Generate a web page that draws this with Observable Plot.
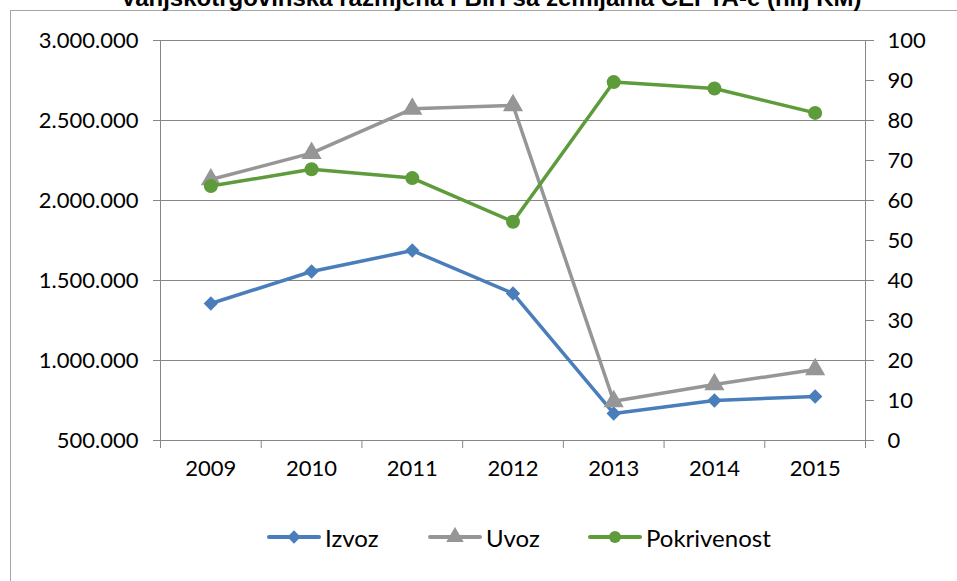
<!DOCTYPE html>
<html>
<head>
<meta charset="utf-8">
<script src="https://cdn.jsdelivr.net/npm/d3@7"></script>
<script src="https://cdn.jsdelivr.net/npm/@observablehq/plot@0.6"></script>
<style>
  html, body { margin: 0; padding: 0; background: #fff; }
  body { width: 957px; height: 581px; position: relative; overflow: hidden; font-family: "Lato", sans-serif; }
  #frame { position: absolute; left: 10px; top: 10px; width: 960px; height: 600px; border-top: 1px solid #a6a6a6; border-left: 1px solid #a6a6a6; }
  #title { position: absolute; left: 0; width: 982px; top: -14px; text-align: center; font-family: "Liberation Sans", sans-serif; font-weight: bold; font-size: 24px; line-height: 24px; color: #000; white-space: nowrap; }
  #chart { position: absolute; left: 0; top: 0; }
  #legend { position: absolute; left: 0; top: 522px; width: 957px; height: 30px; }
  .item { position: absolute; top: 0; display: flex; align-items: center; font-size: 24px; color: #000; height: 30px; }
  .item svg { margin-right: 4px; }
</style>
</head>
<body>
<div id="frame"></div>
<div id="title">Vanjskotrgovinska razmjena FBiH sa zemljama CEFTA-e (hilj KM)</div>
<div id="chart"></div>
<div id="legend"></div>
<script>
const years = [2009, 2010, 2011, 2012, 2013, 2014, 2015];
const izvoz = [1356000, 1556000, 1687000, 1419000, 669000, 750000, 775000];
const uvoz = [2131000, 2296000, 2573000, 2595000, 745000, 850000, 944000];
const pokrivenost = [63.6, 67.8, 65.6, 54.7, 89.6, 88.0, 81.9];
const leftTicks = [500000, 1000000, 1500000, 2000000, 2500000, 3000000];
const rightTicks = [0, 10, 20, 30, 40, 50, 60, 70, 80, 90, 100];
const seriesNames = ["Izvoz", "Uvoz", "Pokrivenost"];
const colors = ["#4a7ebb", "#969696", "#5e9b3a"];

const yMin = leftTicks[0], yMax = leftTicks[leftTicks.length - 1];
const rMin = rightTicks[0], rMax = rightTicks[rightTicks.length - 1];
const toLeft = v => yMin + (v - rMin) / (rMax - rMin) * (yMax - yMin);
const fromLeft = d => Math.round(rMin + (d - yMin) / (yMax - yMin) * (rMax - rMin));

const data = years.map((y, i) => ({year: y, izvoz: izvoz[i], uvoz: uvoz[i], pok: toLeft(pokrivenost[i])}));
const edges = [years[0] - 0.5, ...years.map(y => y + 0.5)];

const loc = d3.formatLocale({decimal: ",", thousands: ".", grouping: [3], currency: ["", ""]});
const fmt = loc.format(",.0f");
const axisColor = "#868686";

const chart = Plot.plot({
  width: 957,
  height: 490,
  marginLeft: 160,
  marginRight: 92,
  marginTop: 40,
  marginBottom: 50,
  style: {fontFamily: "Lato, sans-serif", fontSize: "22px", color: "#000", background: "transparent"},
  x: {domain: [edges[0], edges[edges.length - 1]]},
  y: {domain: [yMin, yMax]},
  marks: [
    Plot.gridY(leftTicks, {stroke: axisColor, strokeOpacity: 1, strokeWidth: 1}),
    Plot.axisY(leftTicks, {anchor: "left", tickFormat: fmt, tickSize: 7, tickPadding: 15, stroke: axisColor, strokeOpacity: 1, label: null, fill: "#000"}),
    Plot.axisY(rightTicks.map(toLeft), {anchor: "right", tickFormat: fromLeft, tickSize: 8, tickPadding: 14, stroke: axisColor, strokeOpacity: 1, label: null, fill: "#000"}),
    Plot.axisX(edges, {anchor: "bottom", tickFormat: () => "", tickSize: 8, stroke: axisColor, strokeOpacity: 1, label: null}),
    Plot.axisX(years, {anchor: "bottom", tickFormat: d => String(d), tickSize: 0, tickPadding: 20, label: null, fill: "#000"}),
    Plot.ruleX([edges[0], edges[edges.length - 1]], {y1: yMin, y2: yMax, stroke: axisColor, strokeWidth: 1}),
    Plot.line(data, {x: "year", y: "izvoz", stroke: colors[0], strokeWidth: 3.5}),
    Plot.dot(data, {x: "year", y: "izvoz", symbol: "diamond2", r: 6.5, fill: colors[0], stroke: null}),
    Plot.line(data, {x: "year", y: "uvoz", stroke: colors[1], strokeWidth: 3.5}),
    Plot.dot(data, {x: "year", y: "uvoz", symbol: "triangle", r: 7.5, fill: colors[1], stroke: null}),
    Plot.line(data, {x: "year", y: "pok", stroke: colors[2], strokeWidth: 3.5}),
    Plot.dot(data, {x: "year", y: "pok", symbol: "circle", r: 7, fill: colors[2], stroke: null})
  ]
});
document.getElementById("chart").appendChild(chart);

// legend
const legend = document.getElementById("legend");
const symbols = [d3.symbolDiamond2, d3.symbolTriangle, d3.symbolCircle];
const symSizes = [Math.PI * 6 * 6, Math.PI * 6.5 * 6.5, Math.PI * 6 * 6];
const lefts = [267, 428, 588];
seriesNames.forEach((name, i) => {
  const item = document.createElement("div");
  item.className = "item";
  item.style.left = lefts[i] + "px";
  const svg = d3.create("svg").attr("width", 54).attr("height", 20);
  svg.append("line").attr("x1", 2).attr("x2", 52).attr("y1", 10).attr("y2", 10)
    .attr("stroke", colors[i]).attr("stroke-width", 4).attr("stroke-linecap", "round");
  svg.append("path").attr("transform", "translate(27,10)")
    .attr("d", d3.symbol(symbols[i], symSizes[i])()).attr("fill", colors[i]);
  item.appendChild(svg.node());
  const span = document.createElement("span");
  span.textContent = name;
  item.appendChild(span);
  legend.appendChild(item);
});
</script>
</body>
</html>
